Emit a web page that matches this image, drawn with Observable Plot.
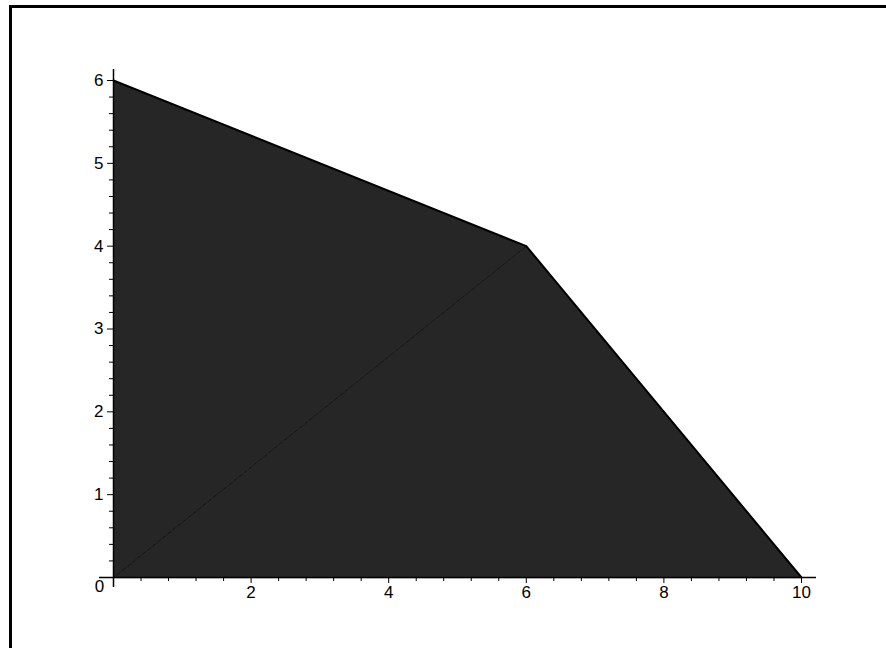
<!DOCTYPE html>
<html>
<head>
<meta charset="utf-8">
<script src="https://cdn.jsdelivr.net/npm/d3@7"></script>
<script src="https://cdn.jsdelivr.net/npm/@observablehq/plot@0.6"></script>
<style>
  html, body { margin: 0; padding: 0; background: #fff; overflow: hidden; }
  #wrap { position: relative; width: 886px; height: 648px; }
  #frame { position: absolute; left: 9px; top: 5px; width: 2000px; height: 2000px;
           border: 3px solid #000; box-sizing: border-box; pointer-events: none; }
</style>
</head>
<body>
<div id="wrap"><div id="frame"></div></div>
<script>
// Polygon vertices (two triangles forming the filled region)
const polyName = ["upper", "upper", "upper", "lower", "lower", "lower"];
const polyX    = [0, 0, 6, 0, 6, 10];
const polyY    = [0, 6, 4, 0, 4, 0];
// Shared edge between the two triangles
const seamX = [0, 6];
const seamY = [0, 4];
// Outer boundary
const edgeX = [0, 6, 10];
const edgeY = [6, 4, 0];
// Ticks
const xMajor = [2, 4, 6, 8, 10];
const xMinor = [0.4, 0.8, 1.2, 1.6, 2.4, 2.8, 3.2, 3.6, 4.4, 4.8, 5.2, 5.6, 6.4, 6.8, 7.2, 7.6, 8.4, 8.8, 9.2, 9.6];
const yMajor = [1, 2, 3, 4, 5, 6];
const yMinor = [0.2, 0.4, 0.6, 0.8, 1.2, 1.4, 1.6, 1.8, 2.2, 2.4, 2.6, 2.8, 3.2, 3.4, 3.6, 3.8,
                4.2, 4.4, 4.6, 4.8, 5.2, 5.4, 5.6, 5.8];
const originLabel = ["0"];

const poly = polyName.map((p, i) => ({p, x: polyX[i], y: polyY[i]}));
const seam = seamX.map((x, i) => ({x, y: seamY[i]}));
const edge = edgeX.map((x, i) => ({x, y: edgeY[i]}));

const chart = Plot.plot({
  width: 886,
  height: 648,
  marginLeft: 113,
  marginRight: 85,
  marginTop: 80,
  marginBottom: 71,
  style: {background: "transparent", fontFamily: "'Liberation Sans', Arial, sans-serif", fontSize: "17px", color: "#000"},
  x: {domain: [0, 10], label: null},
  y: {domain: [0, 6], label: null},
  marks: [
    Plot.line(poly, {x: "x", y: "y", z: "p", fill: "#262626", stroke: "#262626", strokeWidth: 0.5, curve: "linear-closed"}),
    Plot.line(seam, {x: "x", y: "y", stroke: "#141414", strokeWidth: 1}),
    Plot.line(edge, {x: "x", y: "y", stroke: "#000", strokeWidth: 2}),
    Plot.ruleY([0], {stroke: "#000", strokeWidth: 1.5, insetLeft: -14, insetRight: -15}),
    Plot.ruleX([0], {stroke: "#000", strokeWidth: 1.5, insetTop: -11, insetBottom: -10}),
    Plot.axisX({ticks: xMinor, tickSize: 4, tickFormat: () => "", stroke: "#000", label: null}),
    Plot.axisX({ticks: xMajor, tickSize: 6, tickPadding: 2, tickFormat: d => String(d), fontSize: 17, fill: "#000", stroke: "#000", label: null}),
    Plot.axisY({ticks: yMinor, tickSize: 4, tickFormat: () => "", stroke: "#000", label: null}),
    Plot.axisY({ticks: yMajor, tickSize: 6, tickPadding: 4, tickFormat: d => String(d), fontSize: 17, fill: "#000", stroke: "#000", label: null}),
    Plot.text(originLabel, {x: 0, y: 0, text: d => d, dx: -14, dy: 9, fontSize: 17, fill: "#000", textAnchor: "middle", lineAnchor: "middle"})
  ]
});
document.getElementById("wrap").insertBefore(chart, document.getElementById("frame"));
</script>
</body>
</html>
